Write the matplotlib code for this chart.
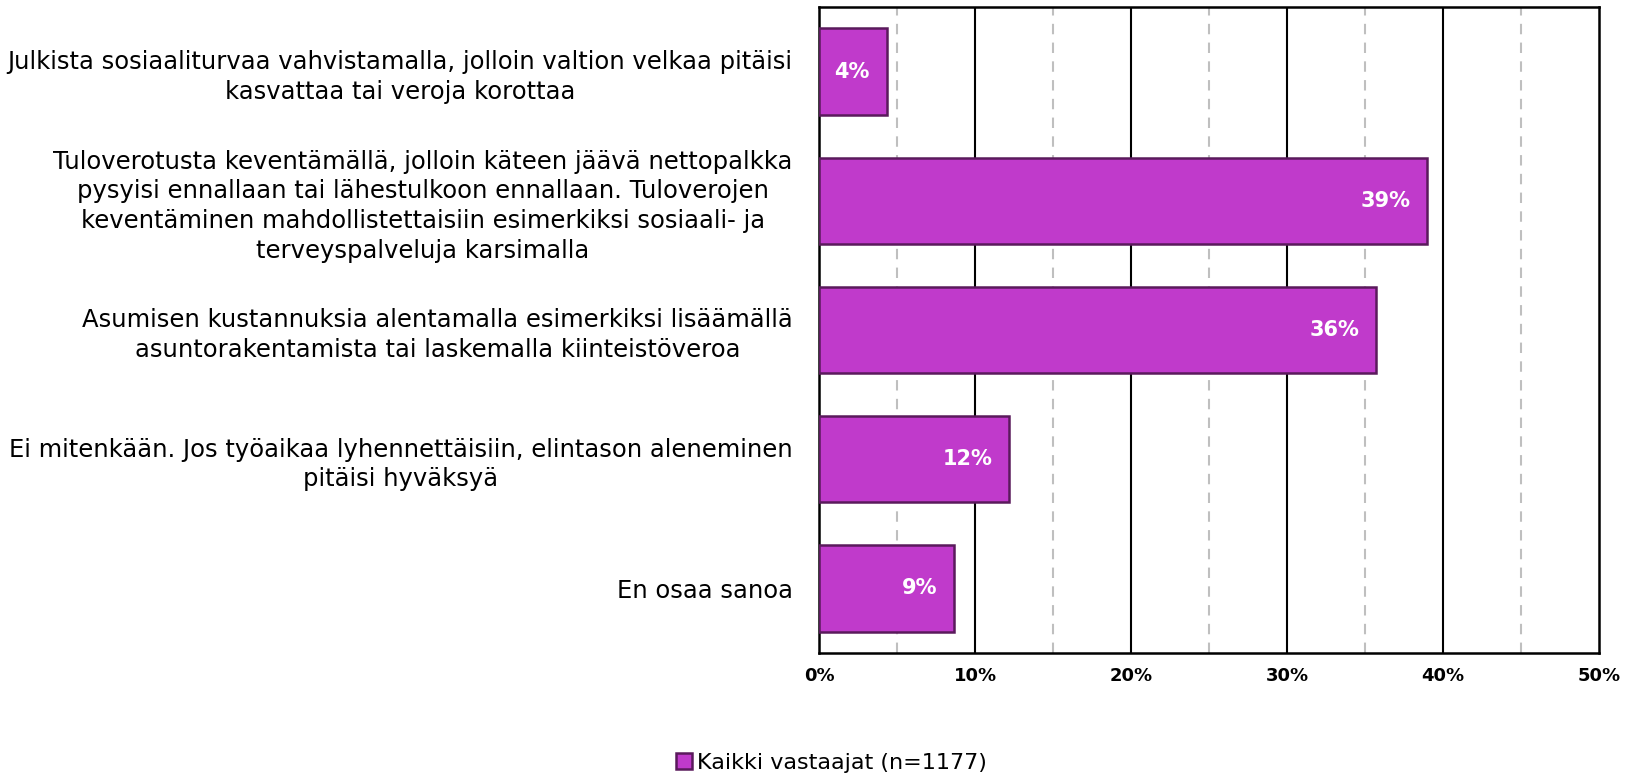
import numpy as np
import matplotlib
matplotlib.use("Agg")
import matplotlib.pyplot as plt
from matplotlib.patches import Patch

categories = [
    "Julkista sosiaaliturvaa vahvistamalla, jolloin valtion velkaa pitäisi\nkasvattaa tai veroja korottaa",
    "Tuloverotusta keventämällä, jolloin käteen jäävä nettopalkka\npysyisi ennallaan tai lähestulkoon ennallaan. Tuloverojen\nkeventäminen mahdollistettaisiin esimerkiksi sosiaali- ja\nterveyspalveluja karsimalla",
    "Asumisen kustannuksia alentamalla esimerkiksi lisäämällä\nasuntorakentamista tai laskemalla kiinteistöveroa",
    "Ei mitenkään. Jos työaikaa lyhennettäisiin, elintason aleneminen\npitäisi hyväksyä",
    "En osaa sanoa",
]
values = [4.35, 39.0, 35.7, 12.2, 8.65]
value_labels = ["4%", "39%", "36%", "12%", "9%"]
xticks = [0, 10, 20, 30, 40, 50]
xtick_labels = ["0%", "10%", "20%", "30%", "40%", "50%"]
series_name = "Kaikki vastaajat (n=1177)"

bar_color = "#C03ACB"
edge_color = "#5A1A5C"

plt.rcParams['font.family'] = ['DejaVu Sans']

fig = plt.figure(figsize=(16.3, 7.76), dpi=100)
ax = fig.add_axes([0.5025, 0.1585, 0.4785, 0.8325])

y = np.arange(len(categories))
bars = ax.barh(y, values, height=0.67, color=bar_color, edgecolor=edge_color,
               linewidth=1.8, zorder=3)

# labels inside bar ends
for v, lab, yy in zip(values, value_labels, y):
    ax.annotate(lab, xy=(v, yy), xytext=(-17, 0), textcoords='offset pixels',
                ha='right', va='center', color='white', fontsize=15,
                fontweight='bold', zorder=4)

ax.set_xlim(0, 50)
ax.set_ylim(len(categories) - 0.5, -0.5)

# gridlines: solid at 10s, dashed at 5s
for xv in np.arange(5, 50, 10):
    ax.axvline(xv, color='#BFBFBF', lw=1.5, ls=(0, (5, 4)), zorder=1)
for xv in xticks[1:-1]:
    ax.axvline(xv, color='black', lw=1.5, zorder=1)

ax.set_xticks(xticks)
ax.set_xticklabels(xtick_labels, fontsize=13, fontweight='bold')
ax.set_yticks(y)
ax.set_yticklabels(categories, fontsize=17.5, multialignment='center',
                   linespacing=1.3)
ax.tick_params(axis='x', length=0, pad=10)
ax.tick_params(axis='y', length=0, pad=19)

for s in ax.spines.values():
    s.set_linewidth(1.8)
    s.set_color('black')

handle = Patch(facecolor=bar_color, edgecolor=edge_color, linewidth=1.8)
fig.legend([handle], [series_name], loc='center', bbox_to_anchor=(0.51, 0.017),
           frameon=False, fontsize=16, handlelength=0.75, handleheight=0.75,
           handletextpad=0.2)

fig.savefig("out.png", dpi=100)
